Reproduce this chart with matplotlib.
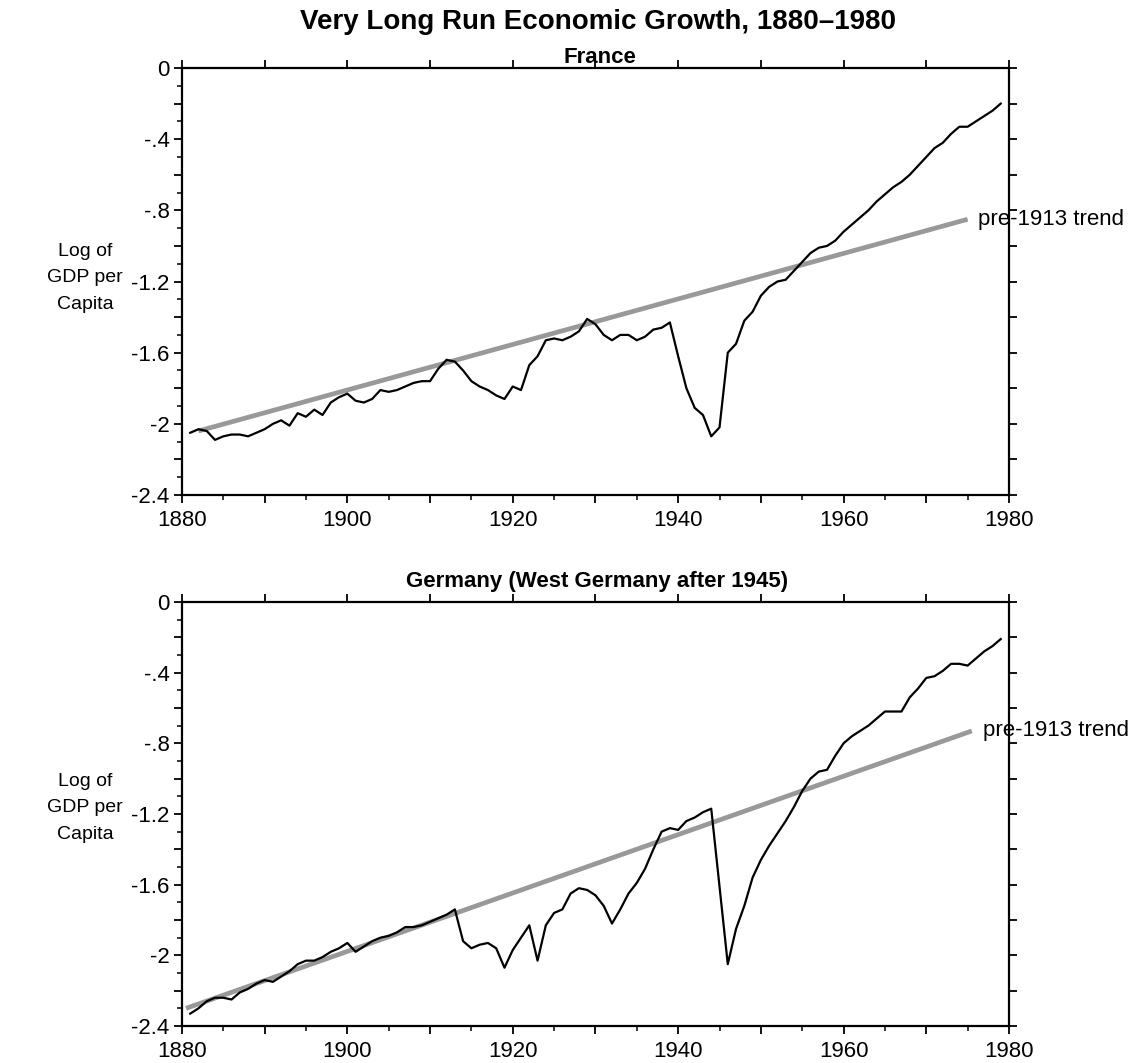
import numpy as np
import matplotlib
matplotlib.use('Agg')
import matplotlib.pyplot as plt
from matplotlib.ticker import MultipleLocator

plt.rcParams['font.family'] = ['Liberation Sans', 'DejaVu Sans']

# France, log of GDP per capita
fr_years = list(range(1881, 1980))
fr_vals = [-2.05, -2.03, -2.04, -2.09, -2.07, -2.06, -2.06, -2.07, -2.05, -2.03,   # 1881-1890
           -2.00, -1.98, -2.01, -1.94, -1.96, -1.92, -1.95, -1.88, -1.85, -1.83,   # 1891-1900
           -1.87, -1.88, -1.86, -1.81, -1.82, -1.81, -1.79, -1.77, -1.76, -1.76,   # 1901-1910
           -1.69, -1.64, -1.65, -1.70, -1.76, -1.79, -1.81, -1.84, -1.86, -1.79,   # 1911-1920
           -1.81, -1.67, -1.62, -1.53, -1.52, -1.53, -1.51, -1.48, -1.41, -1.44,   # 1921-1930
           -1.50, -1.53, -1.50, -1.50, -1.53, -1.51, -1.47, -1.46, -1.43, -1.62,   # 1931-1940
           -1.80, -1.91, -1.95, -2.07, -2.02, -1.60, -1.55, -1.42, -1.37, -1.28,   # 1941-1950
           -1.23, -1.20, -1.19, -1.14, -1.09, -1.04, -1.01, -1.00, -0.97, -0.92,   # 1951-1960
           -0.88, -0.84, -0.80, -0.75, -0.71, -0.67, -0.64, -0.60, -0.55, -0.50,   # 1961-1970
           -0.45, -0.42, -0.37, -0.33, -0.33, -0.30, -0.27, -0.24, -0.20]          # 1971-1979

# Germany (no 1945 observation)
de_years = list(range(1881, 1945)) + list(range(1946, 1980))
de_vals = [-2.33, -2.30, -2.26, -2.24, -2.24, -2.25, -2.21, -2.19, -2.16, -2.14,   # 1881-1890
           -2.15, -2.12, -2.09, -2.05, -2.03, -2.03, -2.01, -1.98, -1.96, -1.93,   # 1891-1900
           -1.98, -1.95, -1.92, -1.90, -1.89, -1.87, -1.84, -1.84, -1.83, -1.81,   # 1901-1910
           -1.79, -1.77, -1.74, -1.92, -1.96, -1.94, -1.93, -1.96, -2.07, -1.97,   # 1911-1920
           -1.90, -1.83, -2.03, -1.83, -1.76, -1.74, -1.65, -1.62, -1.63, -1.66,   # 1921-1930
           -1.72, -1.82, -1.74, -1.65, -1.59, -1.51, -1.40, -1.30, -1.28, -1.29,   # 1931-1940
           -1.24, -1.22, -1.19, -1.17,                                             # 1941-1944
           -2.05, -1.85, -1.72, -1.56, -1.46, -1.38, -1.31, -1.24, -1.16,          # 1946-1954
           -1.07, -1.00, -0.96, -0.95, -0.87, -0.80, -0.76, -0.73, -0.70, -0.66,   # 1955-1964
           -0.62, -0.62, -0.62, -0.54, -0.49, -0.43, -0.42, -0.39, -0.35, -0.35,   # 1965-1974
           -0.36, -0.32, -0.28, -0.25, -0.21]                                      # 1975-1979

# pre-1913 trend lines (end points)
fr_trend_x = [1882, 1975]
fr_trend_y = [-2.04, -0.85]
de_trend_x = [1880.5, 1975.5]
de_trend_y = [-2.30, -0.73]

y_ticks = [-2.4, -2.2, -2.0, -1.8, -1.6, -1.4, -1.2, -1.0, -0.8, -0.6, -0.4, -0.2, 0.0]
y_labels = ['-2.4', '', '-2', '', '-1.6', '', '-1.2', '', '-.8', '', '-.4', '', '0']
x_ticks = list(range(1880, 1981, 10))
x_labels = ['1880', '', '1900', '', '1920', '', '1940', '', '1960', '', '1980']

fig = plt.figure(figsize=(11.37, 10.63), dpi=100)
ax1 = fig.add_axes([0.160, 0.5343, 0.7274, 0.4017])
ax2 = fig.add_axes([0.160, 0.0348, 0.7274, 0.3989])


def style(ax):
    ax.set_xlim(1880, 1980)
    ax.set_ylim(-2.4, 0)
    ax.set_xticks(x_ticks)
    ax.set_xticklabels(x_labels)
    ax.set_yticks(y_ticks)
    ax.set_yticklabels(y_labels)
    ax.xaxis.set_minor_locator(MultipleLocator(5))
    ax.yaxis.set_minor_locator(MultipleLocator(0.1))
    ax.tick_params(which='major', direction='out', length=6, width=1.3,
                   top=True, right=True, labelsize=16, pad=3)
    ax.tick_params(axis='x', which='major', pad=5)
    ax.tick_params(which='minor', direction='out', length=3.5, width=1.1,
                   top=False, right=False)
    for s in ax.spines.values():
        s.set_linewidth(1.6)


for ax, yrs, vals, tx, ty in [(ax1, fr_years, fr_vals, fr_trend_x, fr_trend_y),
                              (ax2, de_years, de_vals, de_trend_x, de_trend_y)]:
    style(ax)
    ax.plot(tx, ty, color='#999999', lw=3.4, solid_capstyle='butt', zorder=2)
    ax.plot(yrs, vals, color='black', lw=1.6, zorder=3)
    ax.text(tx[-1] + 1.3, ty[-1], 'pre-1913 trend', fontsize=16, va='center',
            ha='left', clip_on=False)

fig.text(0.526, 0.979, 'Very Long Run Economic Growth, 1880\u20131980',
         ha='center', va='center', fontsize=20, fontweight='bold')
fig.text(0.528, 0.946, 'France', ha='center', va='center',
         fontsize=16, fontweight='bold')
fig.text(0.525, 0.4525, 'Germany (West Germany after 1945)', ha='center',
         va='center', fontsize=16, fontweight='bold')

for yc in [0.7385, 0.2399]:
    fig.text(0.075, yc, 'Log of\nGDP per\nCapita', ha='center', va='center',
             fontsize=14, linespacing=1.75)

fig.savefig('out.png', dpi=100)
